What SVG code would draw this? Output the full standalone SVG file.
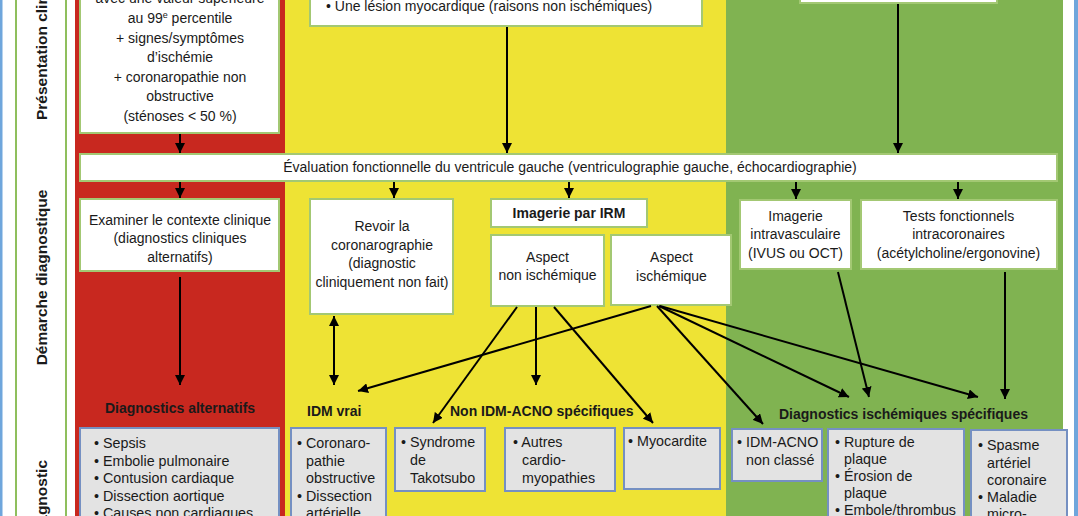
<svg xmlns="http://www.w3.org/2000/svg" width="1078" height="516" viewBox="0 0 1078 516">
<defs>
<style>
text{font-family:"Liberation Sans",Arial,sans-serif;font-size:14px;fill:#1a1a1a}
.c{text-anchor:middle}
.b{font-weight:bold}
.lbl{font-weight:bold;font-size:15.5px}
.li{font-size:14.3px}
.wb{fill:#ffffff;stroke:#a3c873;stroke-width:2}
.gb{fill:#e3e3e3;stroke:#7590c2;stroke-width:2}
.ln{stroke:#000;stroke-width:2;fill:none;marker-end:url(#ah)}
</style>
<marker id="ah" viewBox="0 0 10 10" refX="10" refY="5" markerWidth="10" markerHeight="10" markerUnits="userSpaceOnUse" orient="auto-start-reverse"><path d="M0,0 L10,5 L0,10 z" fill="#000"/></marker>
</defs>
<rect x="0" y="0" width="1078" height="516" fill="#ffffff"/>
<!-- frame lines -->
<rect x="0" y="0" width="2.5" height="516" fill="#6fa6dc"/>
<rect x="1074" y="0" width="4" height="516" fill="#6fa6dc"/>
<rect x="16" y="-2" width="50" height="520" fill="#ffffff" stroke="#8fbf5d" stroke-width="2"/>
<!-- panels -->
<rect x="75" y="0" width="210" height="516" fill="#c8281f"/>
<rect x="285" y="0" width="441" height="516" fill="#eee334"/>
<rect x="726" y="0" width="337" height="516" fill="#80b351"/>
<!-- side labels -->
<g id="label-presentation"><text class="lbl" transform="translate(47,120) rotate(-90)">Présentation clinique</text></g>
<g id="label-demarche"><text class="lbl c" transform="translate(47,277.5) rotate(-90)">Démarche diagnostique</text></g>
<g id="label-diagnostic"><text class="lbl" text-anchor="end" transform="translate(47,460) rotate(-90)">Diagnostic</text></g>
<!-- top boxes -->
<g id="top-red"><rect class="wb" x="80" y="-10" width="199" height="143"/>
<text class="c" x="180" y="3">avec une valeur supérieure</text>
<text class="c" x="180" y="23">au 99<tspan font-size="9" dy="-5">e</tspan><tspan dy="5"> percentile</tspan></text>
<text class="c" x="180" y="42.5">+  signes/symptômes</text>
<text class="c" x="180" y="62">d’ischémie</text>
<text class="c" x="180" y="81.5">+ coronaropathie non</text>
<text class="c" x="180" y="101">obstructive</text>
<text class="c" x="180" y="120.5">(sténoses &lt; 50 %)</text></g>
<g id="top-yellow"><rect class="wb" x="310" y="-10" width="392" height="36"/>
<text x="326" y="10.5">• Une lésion myocardique (raisons non ischémiques)</text></g>
<g id="top-green"><rect class="wb" x="800" y="-10" width="197" height="13"/></g>
<!-- evaluation -->
<g id="evaluation"><rect class="wb" x="80" y="154" width="977" height="27"/>
<text class="c" x="570" y="172">Évaluation fonctionnelle du ventricule gauche (ventriculographie gauche, échocardiographie)</text></g>
<!-- row 2 -->
<g id="examiner"><rect class="wb" x="80" y="199" width="199" height="72"/>
<text class="c" x="180" y="225">Examiner le contexte clinique</text>
<text class="c" x="180" y="243">(diagnostics cliniques</text>
<text class="c" x="180" y="261.5">alternatifs)</text></g>
<g id="revoir"><rect class="wb" x="310" y="199" width="143" height="115"/>
<text class="c" x="382" y="231">Revoir la</text>
<text class="c" x="382" y="249.5">coronarographie</text>
<text class="c" x="382" y="268">(diagnostic</text>
<text class="c" x="382" y="286.5">cliniquement non fait)</text></g>
<g id="irm"><rect class="wb" x="491" y="199" width="156" height="28"/>
<text class="c b" x="569" y="218">Imagerie par IRM</text></g>
<g id="aspect-non"><rect class="wb" x="491" y="235" width="113" height="71"/>
<text class="c" x="547.5" y="261.5">Aspect</text>
<text class="c" x="547.5" y="280">non ischémique</text></g>
<g id="aspect-isch"><rect class="wb" x="611" y="235" width="120" height="70"/>
<text class="c" x="671.5" y="261.5">Aspect</text>
<text class="c" x="671.5" y="280.5">ischémique</text></g>
<g id="intravasc"><rect class="wb" x="740" y="200" width="111" height="69"/>
<text class="c" x="795.5" y="221">Imagerie</text>
<text class="c" x="795.5" y="239">intravasculaire</text>
<text class="c" x="795.5" y="257.5">(IVUS ou OCT)</text></g>
<g id="tests"><rect class="wb" x="861" y="200" width="196" height="69"/>
<text class="c" x="958.5" y="221">Tests fonctionnels</text>
<text class="c" x="958.5" y="239">intracoronaires</text>
<text class="c" x="958.5" y="257.5">(acétylcholine/ergonovine)</text></g>
<!-- section titles -->
<g id="titles">
<text class="c b" x="180" y="413" font-size="13.5">Diagnostics alternatifs</text>
<text class="b" x="307" y="416" font-size="13.5">IDM vrai</text>
<text class="b" x="450" y="416" font-size="13.5">Non IDM-ACNO spécifiques</text>
<text class="b" x="779" y="419" font-size="13.5">Diagnostics ischémiques spécifiques</text>
</g>
<!-- bottom boxes -->
<g id="alt-list"><rect class="gb" x="80" y="428" width="199" height="100"/>
<text class="li" x="94" y="448">• Sepsis</text>
<text class="li" x="94" y="465.5">• Embolie pulmonaire</text>
<text class="li" x="94" y="483">• Contusion cardiaque</text>
<text class="li" x="94" y="500.5">• Dissection aortique</text>
<text class="li" x="94" y="518">• Causes non cardiaques</text></g>
<g id="idm-vrai-list"><rect class="gb" x="291" y="428" width="95" height="100"/>
<text class="li" x="297" y="448">• Coronaro-</text>
<text class="li" x="306" y="465.5">pathie</text>
<text class="li" x="306" y="483">obstructive</text>
<text class="li" x="297" y="500.5">• Dissection</text>
<text class="li" x="306" y="518">artérielle</text></g>
<g id="takotsubo"><rect class="gb" x="395" y="428" width="90" height="63"/>
<text class="li" x="401" y="447">• Syndrome</text>
<text class="li" x="410" y="465">de</text>
<text class="li" x="410" y="482.5">Takotsubo</text></g>
<g id="autres"><rect class="gb" x="505" y="428" width="110" height="63"/>
<text class="li" x="513" y="447">• Autres</text>
<text class="li" x="522" y="465">cardio-</text>
<text class="li" x="522" y="482.5">myopathies</text></g>
<g id="myocardite"><rect class="gb" x="624" y="428" width="96" height="61"/>
<text class="li" x="628" y="446">• Myocardite</text></g>
<g id="idm-acno"><rect class="gb" x="732" y="429" width="90" height="52"/>
<text class="li" x="737" y="447">• IDM-ACNO</text>
<text class="li" x="746" y="465">non classé</text></g>
<g id="rupture"><rect class="gb" x="828" y="429" width="136" height="100"/>
<text class="li" x="835" y="447">• Rupture de</text>
<text class="li" x="844" y="464">plaque</text>
<text class="li" x="835" y="481">• Érosion de</text>
<text class="li" x="844" y="498">plaque</text>
<text class="li" x="835" y="515">• Embole/thrombus</text></g>
<g id="spasme"><rect class="gb" x="971" y="430" width="96" height="100"/>
<text class="li" x="978" y="450">• Spasme</text>
<text class="li" x="987" y="468">artériel</text>
<text class="li" x="987" y="485">coronaire</text>
<text class="li" x="978" y="502">• Maladie</text>
<text class="li" x="987" y="519">micro-</text></g>
<!-- connectors -->
<g id="connectors">
<line class="ln" x1="180" y1="134" x2="180" y2="153"/>
<line class="ln" x1="507" y1="27" x2="507" y2="153"/>
<line class="ln" x1="898" y1="4" x2="898" y2="153"/>
<line class="ln" x1="180" y1="182" x2="180" y2="198"/>
<line class="ln" x1="394" y1="182" x2="394" y2="198"/>
<line class="ln" x1="569" y1="182" x2="569" y2="198"/>
<line class="ln" x1="796" y1="182" x2="796" y2="199"/>
<line class="ln" x1="958" y1="182" x2="958" y2="199"/>
<line class="ln" x1="180" y1="277" x2="180" y2="385"/>
<line class="ln" x1="334" y1="316" x2="334" y2="385" marker-start="url(#ah)"/>
<line class="ln" x1="651" y1="306" x2="358" y2="391"/>
<line class="ln" x1="517" y1="307" x2="433" y2="423"/>
<line class="ln" x1="536" y1="307" x2="536" y2="385"/>
<line class="ln" x1="554" y1="307" x2="653" y2="423"/>
<line class="ln" x1="657" y1="306" x2="763" y2="424"/>
<line class="ln" x1="659" y1="306" x2="849" y2="397"/>
<line class="ln" x1="660" y1="306" x2="978" y2="397"/>
<line class="ln" x1="838" y1="272" x2="869" y2="397"/>
<line class="ln" x1="1005" y1="272" x2="1005" y2="399"/>
</g>
</svg>
